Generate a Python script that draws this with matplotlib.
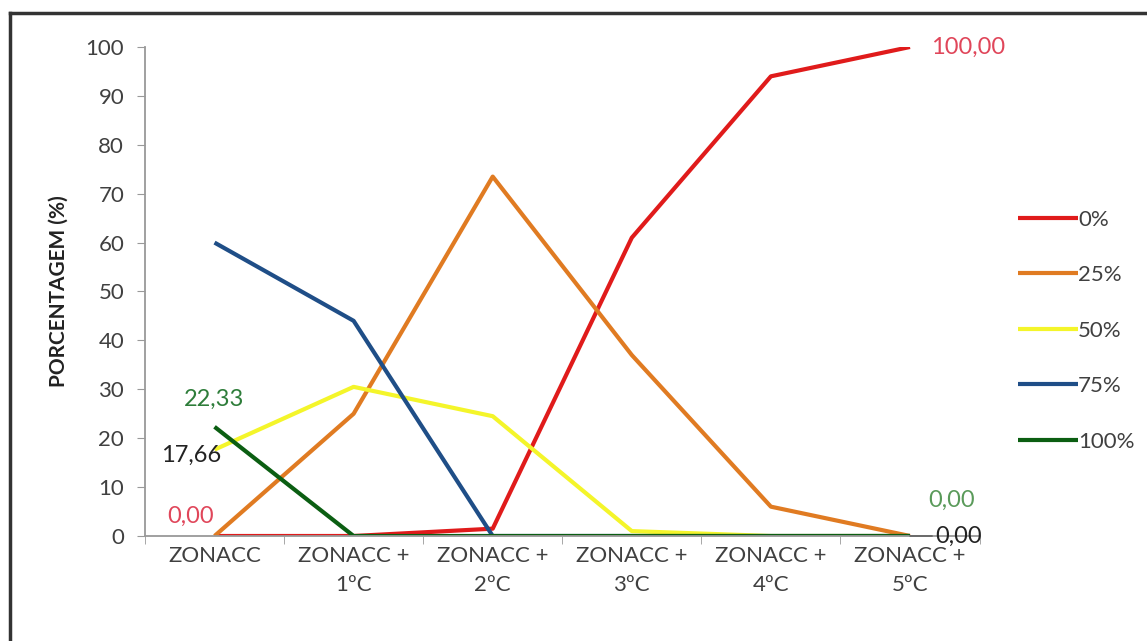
import numpy as np
import matplotlib.pyplot as plt
from matplotlib.lines import Line2D

plt.rcParams['font.family'] = ['Lato', 'DejaVu Sans']

# DATA
categorias = ['ZONACC', 'ZONACC +\n1ºC', 'ZONACC +\n2ºC', 'ZONACC +\n3ºC', 'ZONACC +\n4ºC', 'ZONACC +\n5ºC']
s0   = [0, 0, 1.5, 61, 94, 100]
s25  = [0, 25, 73.5, 37, 6, 0]
s50  = [17.66, 30.5, 24.5, 1, 0, 0]
s75  = [60, 44, 0, 0, 0, 0]
s100 = [22.33, 0, 0, 0, 0, 0]
nomes = ['0%', '25%', '50%', '75%', '100%']
cores = ['#e01b1b', '#e07b22', '#f4f52a', '#1f4e87', '#0b5e12']

fig = plt.figure(figsize=(11.47, 6.41), dpi=100)
ax = fig.add_axes([0.1264, 0.1638, 0.7276, 0.7629])

x = np.arange(len(categorias))
series = [s0, s25, s50, s75, s100]
for s, nome, c in zip(series, nomes, cores):
    ax.plot(x, s, color=c, linewidth=3, label=nome, solid_capstyle='butt')

ax.set_xlim(-0.5, 5.5)
ax.set_ylim(0, 100)
ax.set_yticks(range(0, 101, 10))
ax.set_xticks(x)
ax.set_xticklabels(categorias, fontsize=16, color='#404040', linespacing=1.6)
ax.set_xticks(np.arange(-0.5, 5.6, 1), minor=True)
ax.tick_params(axis='x', which='major', length=0, pad=7)
ax.tick_params(axis='x', which='minor', length=6, color='#999999', direction='out')
ax.tick_params(axis='y', length=6, color='#999999', labelsize=16, labelcolor='#404040', pad=9)
for sp in ['top', 'right']:
    ax.spines[sp].set_visible(False)
ax.spines['left'].set_color('#999999')
ax.spines['bottom'].set_color('#999999')
ax.spines['left'].set_linewidth(1.3)
ax.spines['bottom'].set_linewidth(1.3)
ax.set_ylabel('PORCENTAGEM (%)', fontsize=15, fontweight='bold', color='#222222', labelpad=12)

# rotulos de dados
ax.annotate('0,00', (x[0], s0[0]), xytext=(-17, 14), textcoords='offset points',
            ha='center', va='center', fontsize=17, color='#e0465a')
ax.annotate('17,66', (x[0], s50[0]), xytext=(5, -4), textcoords='offset points',
            ha='right', va='center', fontsize=17, color='#222222')
ax.annotate('22,33', (x[0], s100[0]), xytext=(0, 20), textcoords='offset points',
            ha='center', va='center', fontsize=17, color='#2e7d3a')
ax.annotate('100,00', (x[5], s0[5]), xytext=(15, 0), textcoords='offset points',
            ha='left', va='center', fontsize=17, color='#e0465a')
ax.annotate('0,00', (x[5], s100[5]), xytext=(30, 26), textcoords='offset points',
            ha='center', va='center', fontsize=17, color='#5a9a5a')
ax.annotate('0,00', (x[5], s75[5]), xytext=(18, 0), textcoords='offset points',
            ha='left', va='center', fontsize=17, color='#222222',
            arrowprops=dict(arrowstyle='-', color='#555555', lw=1, shrinkA=0, shrinkB=0))

leg = ax.legend(loc='center left', bbox_to_anchor=(1.022, 0.42), frameon=False, fontsize=16,
                handlelength=2.7, handletextpad=0.0, labelspacing=1.6)
for t in leg.get_texts():
    t.set_color('#404040')

# moldura externa (so esquerda e topo visiveis)
fig.add_artist(Line2D([0.009, 0.009], [0.0, 0.98], transform=fig.transFigure, color='#333333', lw=2.5))
fig.add_artist(Line2D([0.009, 1.0], [0.98, 0.98], transform=fig.transFigure, color='#333333', lw=2.5))

plt.savefig('out.png', dpi=100)
